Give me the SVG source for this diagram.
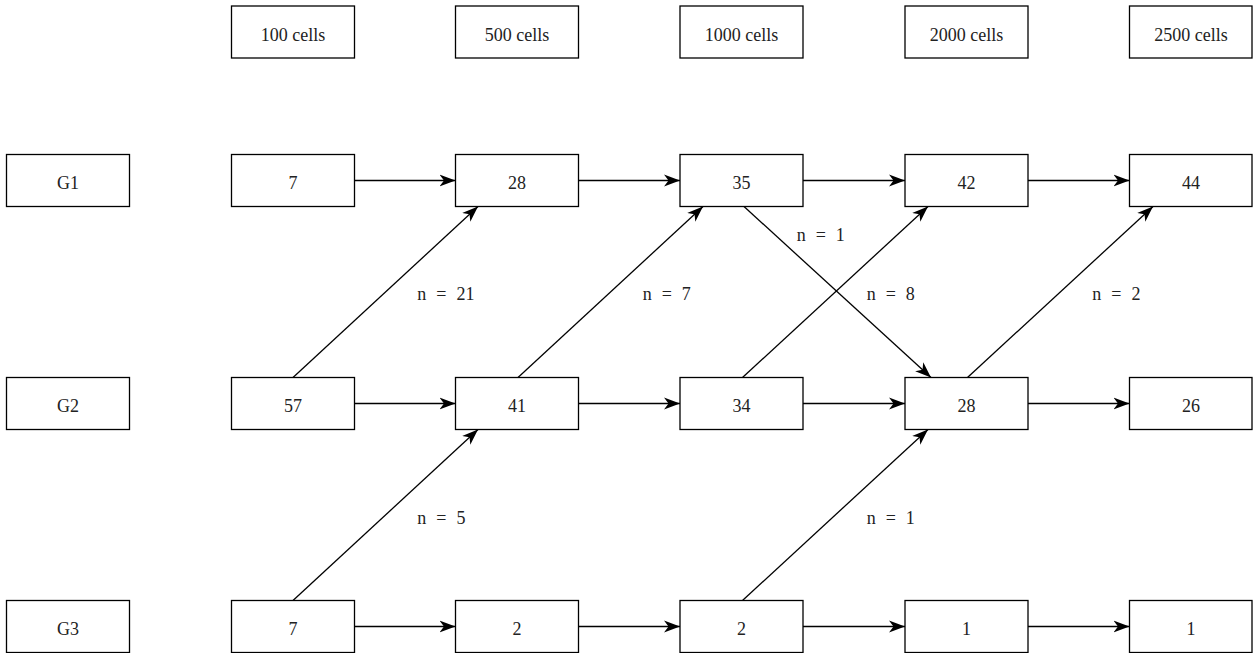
<svg xmlns="http://www.w3.org/2000/svg" width="1253" height="653" viewBox="0 0 1253 653">
<defs>
<style>
rect.box{fill:#fff;stroke:#000;stroke-width:1.3}
text{font-family:"Liberation Serif",serif;font-size:18px;fill:#222}
.c{text-anchor:middle}
.lbl{word-spacing:5.5px}
.e{stroke:#000;stroke-width:1.3;fill:none;marker-end:url(#ah)}
</style>
<marker id="ah" markerUnits="userSpaceOnUse" markerWidth="18" markerHeight="14" viewBox="0 0 18 14" refX="16" refY="7" orient="auto">
<path d="M0,1 L16,7 L0,13 L4.5,7 Z" fill="#000"/>
</marker>
</defs>
<g id="headers">
<g id="h100"><rect class="box" x="231.5" y="6" width="123" height="52"/><text class="c" x="293" y="40.5">100 cells</text></g>
<g id="h500"><rect class="box" x="455.5" y="6" width="123" height="52"/><text class="c" x="517" y="40.5">500 cells</text></g>
<g id="h1000"><rect class="box" x="680" y="6" width="123" height="52"/><text class="c" x="741.5" y="40.5">1000 cells</text></g>
<g id="h2000"><rect class="box" x="905" y="6" width="123" height="52"/><text class="c" x="966.5" y="40.5">2000 cells</text></g>
<g id="h2500"><rect class="box" x="1129.5" y="6" width="122.5" height="52"/><text class="c" x="1191" y="40.5">2500 cells</text></g>
</g>
<g id="G1"><rect class="box" x="6.5" y="154.5" width="123" height="52"/><text class="c" x="68" y="188.5">G1</text></g>
<g id="G2"><rect class="box" x="6.5" y="377.5" width="123" height="52"/><text class="c" x="68" y="411.5">G2</text></g>
<g id="G3"><rect class="box" x="6.5" y="600.5" width="123" height="52"/><text class="c" x="68" y="634.5">G3</text></g>

<g id="g1_100"><rect class="box" x="231.5" y="154.5" width="123" height="52"/><text class="c" x="293" y="188.5">7</text></g>
<g id="g1_500"><rect class="box" x="455.5" y="154.5" width="123" height="52"/><text class="c" x="517" y="188.5">28</text></g>
<g id="g1_1000"><rect class="box" x="680" y="154.5" width="123" height="52"/><text class="c" x="741.5" y="188.5">35</text></g>
<g id="g1_2000"><rect class="box" x="905" y="154.5" width="123" height="52"/><text class="c" x="966.5" y="188.5">42</text></g>
<g id="g1_2500"><rect class="box" x="1129.5" y="154.5" width="122.5" height="52"/><text class="c" x="1191" y="188.5">44</text></g>

<g id="g2_100"><rect class="box" x="231.5" y="377.5" width="123" height="52"/><text class="c" x="293" y="411.5">57</text></g>
<g id="g2_500"><rect class="box" x="455.5" y="377.5" width="123" height="52"/><text class="c" x="517" y="411.5">41</text></g>
<g id="g2_1000"><rect class="box" x="680" y="377.5" width="123" height="52"/><text class="c" x="741.5" y="411.5">34</text></g>
<g id="g2_2000"><rect class="box" x="905" y="377.5" width="123" height="52"/><text class="c" x="966.5" y="411.5">28</text></g>
<g id="g2_2500"><rect class="box" x="1129.5" y="377.5" width="122.5" height="52"/><text class="c" x="1191" y="411.5">26</text></g>

<g id="g3_100"><rect class="box" x="231.5" y="600.5" width="123" height="52"/><text class="c" x="293" y="634.5">7</text></g>
<g id="g3_500"><rect class="box" x="455.5" y="600.5" width="123" height="52"/><text class="c" x="517" y="634.5">2</text></g>
<g id="g3_1000"><rect class="box" x="680" y="600.5" width="123" height="52"/><text class="c" x="741.5" y="634.5">2</text></g>
<g id="g3_2000"><rect class="box" x="905" y="600.5" width="123" height="52"/><text class="c" x="966.5" y="634.5">1</text></g>
<g id="g3_2500"><rect class="box" x="1129.5" y="600.5" width="122.5" height="52"/><text class="c" x="1191" y="634.5">1</text></g>

<g id="connectors">
<path class="e" d="M354.5,180.5 H455.5"/>
<path class="e" d="M578.5,180.5 H680"/>
<path class="e" d="M803,180.5 H905"/>
<path class="e" d="M1028,180.5 H1129.5"/>
<path class="e" d="M354.5,403.5 H455.5"/>
<path class="e" d="M578.5,403.5 H680"/>
<path class="e" d="M803,403.5 H905"/>
<path class="e" d="M1028,403.5 H1129.5"/>
<path class="e" d="M354.5,626.5 H455.5"/>
<path class="e" d="M578.5,626.5 H680"/>
<path class="e" d="M803,626.5 H905"/>
<path class="e" d="M1028,626.5 H1129.5"/>
<path class="e" d="M293,377.5 L478,206.5"/>
<path class="e" d="M518,377.5 L703,206.5"/>
<path class="e" d="M744,206.5 L931,377.5"/>
<path class="e" d="M742.5,377.5 L928,206.5"/>
<path class="e" d="M967.5,377.5 L1153,206.5"/>
<path class="e" d="M293,600.5 L478,429.5"/>
<path class="e" d="M742.5,600.5 L928,429.5"/>
<text class="lbl" x="417.3" y="300">n = 21</text>
<text class="lbl" x="642.7" y="300">n = 7</text>
<text class="lbl" x="796.7" y="241">n = 1</text>
<text class="lbl" x="866.7" y="300">n = 8</text>
<text class="lbl" x="1092.3" y="300">n = 2</text>
<text class="lbl" x="417.3" y="523.5">n = 5</text>
<text class="lbl" x="866.7" y="523.5">n = 1</text>
</g>
</svg>
